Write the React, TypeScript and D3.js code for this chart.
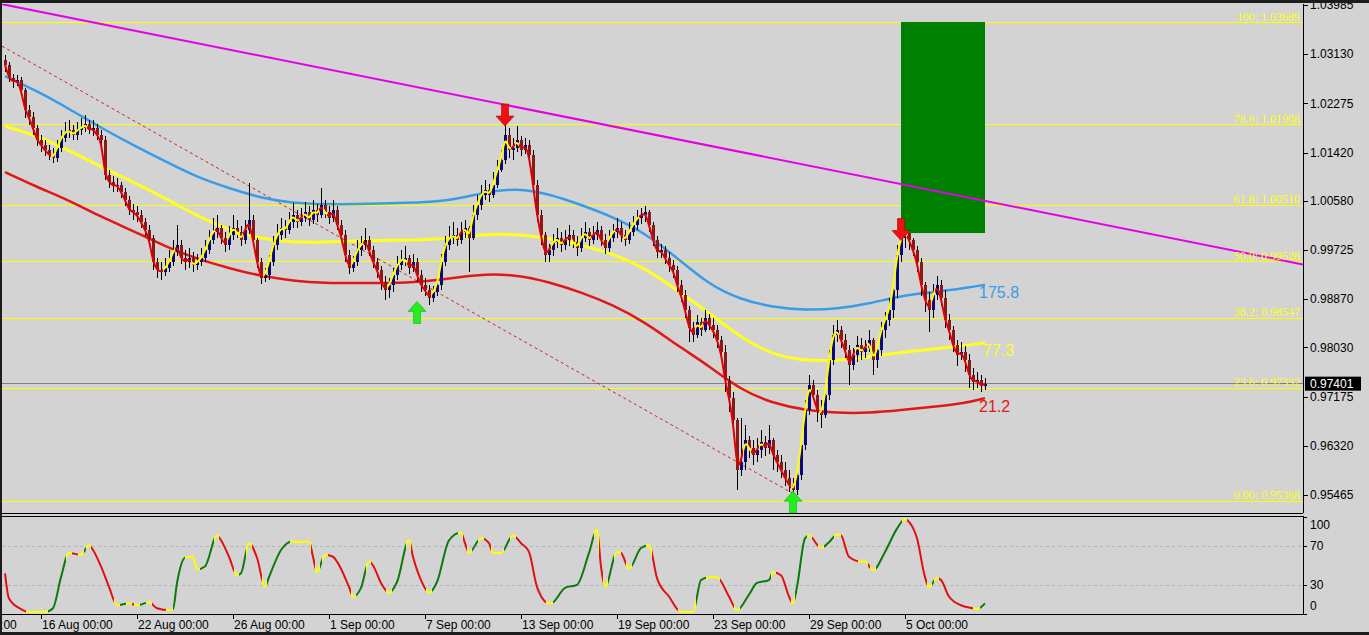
import React from 'react';
import * as d3 from 'd3';

// ---------- DATA ----------
const firstOpen = 1.0303;
// [high, low, close] per H4 bar; open = previous close
const candles: [number, number, number][] = [
  [1.0312, 1.0282, 1.0294], [1.0299, 1.0265, 1.0272], [1.0279, 1.0254, 1.0265], [1.0277, 1.0258, 1.0268], [1.0273, 1.0242, 1.0251], [1.0254, 1.0202, 1.0216],
  [1.0224, 1.0190, 1.0203], [1.0212, 1.0172, 1.0184], [1.0190, 1.0153, 1.0164], [1.0172, 1.0143, 1.0155], [1.0164, 1.0136, 1.0146], [1.0155, 1.0129, 1.0138],
  [1.0150, 1.0124, 1.0132], [1.0164, 1.0126, 1.0150], [1.0181, 1.0143, 1.0167], [1.0195, 1.0160, 1.0177], [1.0198, 1.0167, 1.0181], [1.0190, 1.0164, 1.0172],
  [1.0195, 1.0164, 1.0181], [1.0202, 1.0172, 1.0184], [1.0207, 1.0177, 1.0191], [1.0198, 1.0174, 1.0181], [1.0198, 1.0170, 1.0184], [1.0191, 1.0164, 1.0172],
  [1.0181, 1.0153, 1.0164], [1.0171, 1.0094, 1.0103], [1.0112, 1.0080, 1.0091], [1.0101, 1.0073, 1.0084], [1.0098, 1.0073, 1.0086], [1.0091, 1.0063, 1.0073],
  [1.0080, 1.0049, 1.0060], [1.0066, 1.0033, 1.0042], [1.0052, 1.0025, 1.0039], [1.0049, 1.0021, 1.0033], [1.0042, 1.0011, 1.0021], [1.0028, 0.9997, 1.0007],
  [1.0016, 0.9981, 0.9993], [0.9998, 0.9938, 0.9951], [0.9959, 0.9924, 0.9938], [0.9951, 0.9920, 0.9934], [0.9959, 0.9927, 0.9941], [0.9972, 0.9934, 0.9951],
  [0.9990, 0.9945, 0.9969], [1.0016, 0.9962, 0.9981], [0.9990, 0.9948, 0.9958], [0.9972, 0.9938, 0.9951], [0.9976, 0.9941, 0.9958], [0.9969, 0.9934, 0.9946],
  [0.9966, 0.9938, 0.9951], [0.9976, 0.9945, 0.9958], [0.9990, 0.9951, 0.9972], [1.0007, 0.9966, 0.9990], [1.0028, 0.9983, 1.0004], [1.0033, 0.9993, 1.0011],
  [1.0016, 0.9983, 0.9993], [1.0004, 0.9969, 0.9981], [1.0014, 0.9972, 0.9998], [1.0033, 0.9990, 1.0011], [1.0024, 0.9993, 1.0004], [1.0014, 0.9979, 0.9990],
  [1.0024, 0.9983, 1.0007], [1.0089, 1.0000, 1.0024], [1.0033, 0.9979, 0.9990], [0.9993, 0.9941, 0.9951], [0.9959, 0.9913, 0.9924], [0.9941, 0.9917, 0.9929],
  [0.9964, 0.9920, 0.9951], [0.9997, 0.9945, 0.9981], [1.0018, 0.9972, 0.9998], [1.0028, 0.9990, 1.0011], [1.0024, 0.9993, 1.0007], [1.0038, 1.0000, 1.0021],
  [1.0054, 1.0011, 1.0033], [1.0042, 1.0011, 1.0021], [1.0045, 1.0014, 1.0028], [1.0056, 1.0021, 1.0038], [1.0049, 1.0014, 1.0024], [1.0059, 1.0018, 1.0042],
  [1.0052, 1.0021, 1.0033], [1.0080, 1.0028, 1.0051], [1.0059, 1.0028, 1.0038], [1.0049, 1.0018, 1.0028], [1.0059, 1.0021, 1.0042], [1.0049, 1.0007, 1.0016],
  [1.0024, 0.9986, 0.9998], [1.0007, 0.9951, 0.9964], [0.9972, 0.9931, 0.9941], [0.9962, 0.9934, 0.9951], [0.9990, 0.9945, 0.9972], [0.9997, 0.9962, 0.9981],
  [1.0011, 0.9972, 0.9990], [0.9997, 0.9962, 0.9972], [0.9979, 0.9941, 0.9951], [0.9959, 0.9924, 0.9938], [0.9945, 0.9903, 0.9917], [0.9927, 0.9886, 0.9903],
  [0.9924, 0.9889, 0.9911], [0.9941, 0.9899, 0.9929], [0.9962, 0.9920, 0.9946], [0.9972, 0.9938, 0.9955], [0.9979, 0.9945, 0.9958], [0.9964, 0.9931, 0.9941],
  [0.9966, 0.9934, 0.9951], [0.9959, 0.9917, 0.9929], [0.9937, 0.9899, 0.9911], [0.9924, 0.9892, 0.9903], [0.9911, 0.9877, 0.9889], [0.9910, 0.9882, 0.9899],
  [0.9924, 0.9892, 0.9911], [0.9966, 0.9903, 0.9951], [0.9997, 0.9945, 0.9981], [1.0014, 0.9972, 0.9993], [1.0021, 0.9983, 0.9998], [1.0011, 0.9979, 0.9990],
  [1.0021, 0.9983, 1.0004], [1.0024, 0.9993, 1.0011], [1.0014, 0.9934, 0.9993], [1.0051, 0.9990, 1.0033], [1.0068, 1.0024, 1.0051], [1.0085, 1.0042, 1.0068],
  [1.0094, 1.0059, 1.0077], [1.0087, 1.0056, 1.0068], [1.0108, 1.0063, 1.0085], [1.0129, 1.0080, 1.0111], [1.0146, 1.0108, 1.0129], [1.0193, 1.0122, 1.0172],
  [1.0184, 1.0132, 1.0146], [1.0167, 1.0129, 1.0150], [1.0188, 1.0143, 1.0164], [1.0171, 1.0136, 1.0146], [1.0167, 1.0139, 1.0155], [1.0164, 1.0126, 1.0138],
  [1.0146, 1.0073, 1.0085], [1.0094, 1.0021, 1.0033], [1.0042, 0.9981, 0.9998], [1.0004, 0.9952, 0.9964], [0.9983, 0.9952, 0.9972], [1.0000, 0.9962, 0.9986],
  [1.0011, 0.9976, 0.9993], [1.0004, 0.9969, 0.9981], [1.0007, 0.9972, 0.9990], [1.0016, 0.9979, 0.9998], [1.0007, 0.9976, 0.9986], [0.9997, 0.9962, 0.9976],
  [1.0011, 0.9969, 0.9993], [1.0021, 0.9986, 1.0004], [1.0011, 0.9979, 0.9990], [1.0014, 0.9983, 0.9998], [1.0021, 0.9990, 1.0007], [1.0014, 0.9979, 0.9990],
  [1.0000, 0.9965, 0.9976], [1.0007, 0.9969, 0.9993], [1.0018, 0.9986, 1.0004], [1.0028, 0.9993, 1.0011], [1.0021, 0.9986, 0.9998], [1.0007, 0.9979, 0.9990],
  [1.0021, 0.9983, 1.0004], [1.0032, 0.9997, 1.0016], [1.0042, 1.0007, 1.0028], [1.0045, 1.0018, 1.0033], [1.0049, 1.0021, 1.0038], [1.0042, 1.0004, 1.0016],
  [1.0021, 0.9979, 0.9990], [0.9997, 0.9959, 0.9969], [0.9983, 0.9959, 0.9972], [0.9979, 0.9948, 0.9958], [0.9969, 0.9934, 0.9946], [0.9955, 0.9924, 0.9938],
  [0.9945, 0.9899, 0.9911], [0.9920, 0.9882, 0.9894], [0.9903, 0.9854, 0.9868], [0.9875, 0.9813, 0.9837], [0.9847, 0.9813, 0.9825], [0.9859, 0.9819, 0.9847],
  [0.9854, 0.9823, 0.9833], [0.9868, 0.9830, 0.9854], [0.9861, 0.9833, 0.9842], [0.9854, 0.9819, 0.9833], [0.9842, 0.9802, 0.9816], [0.9823, 0.9781, 0.9795],
  [0.9807, 0.9725, 0.9746], [0.9753, 0.9691, 0.9715], [0.9725, 0.9659, 0.9677], [0.9680, 0.9555, 0.9590], [0.9680, 0.9579, 0.9604], [0.9668, 0.9590, 0.9642],
  [0.9649, 0.9611, 0.9628], [0.9642, 0.9598, 0.9616], [0.9645, 0.9604, 0.9625], [0.9659, 0.9611, 0.9638], [0.9649, 0.9614, 0.9628], [0.9668, 0.9618, 0.9642],
  [0.9645, 0.9590, 0.9616], [0.9625, 0.9586, 0.9604], [0.9616, 0.9576, 0.9590], [0.9604, 0.9562, 0.9576], [0.9590, 0.9552, 0.9564], [0.9576, 0.9543, 0.9555],
  [0.9593, 0.9546, 0.9581], [0.9645, 0.9572, 0.9633], [0.9712, 0.9625, 0.9694], [0.9755, 0.9685, 0.9738], [0.9746, 0.9712, 0.9720], [0.9729, 0.9673, 0.9694],
  [0.9712, 0.9663, 0.9685], [0.9738, 0.9680, 0.9720], [0.9799, 0.9712, 0.9781], [0.9842, 0.9772, 0.9825], [0.9851, 0.9813, 0.9833], [0.9840, 0.9802, 0.9816],
  [0.9826, 0.9785, 0.9799], [0.9807, 0.9738, 0.9772], [0.9802, 0.9764, 0.9790], [0.9823, 0.9778, 0.9807], [0.9819, 0.9781, 0.9795], [0.9816, 0.9785, 0.9802],
  [0.9833, 0.9795, 0.9816], [0.9819, 0.9755, 0.9781], [0.9809, 0.9767, 0.9799], [0.9847, 0.9788, 0.9833], [0.9865, 0.9819, 0.9851], [0.9889, 0.9840, 0.9868],
  [0.9920, 0.9854, 0.9903], [0.9981, 0.9889, 0.9964], [1.0011, 0.9951, 0.9993], [1.0024, 0.9976, 1.0004], [1.0011, 0.9972, 0.9990], [0.9993, 0.9962, 0.9972],
  [0.9979, 0.9934, 0.9951], [0.9959, 0.9892, 0.9911], [0.9917, 0.9865, 0.9886], [0.9899, 0.9830, 0.9868], [0.9913, 0.9854, 0.9894], [0.9927, 0.9886, 0.9911],
  [0.9920, 0.9875, 0.9889], [0.9903, 0.9837, 0.9851], [0.9861, 0.9816, 0.9833], [0.9840, 0.9795, 0.9807], [0.9816, 0.9771, 0.9790], [0.9812, 0.9781, 0.9795],
  [0.9805, 0.9760, 0.9781], [0.9792, 0.9732, 0.9755], [0.9767, 0.9729, 0.9743], [0.9760, 0.9732, 0.9746], [0.9755, 0.9725, 0.9736], [0.9750, 0.9729, 0.9740],
];

const priceTicks = [1.03985, 1.0313, 1.02275, 1.0142, 1.0058, 0.99725, 0.9887, 0.9803, 0.97175, 0.9632, 0.95465];
const timeBars = [-15, 9, 33, 57, 81, 105, 129, 153, 177, 201, 225];
const timeLabels = ['10 Aug 00:00', '16 Aug 00:00', '22 Aug 00:00', '26 Aug 00:00', '1 Sep 00:00', '7 Sep 00:00', '13 Sep 00:00', '19 Sep 00:00', '23 Sep 00:00', '29 Sep 00:00', '5 Oct 00:00'];

const fibNames = ['100', '78.6', '61.8', '50.0', '38.2', '23.6', '0.00'];
const fibPrices = [1.03689, 1.01908, 1.0051, 0.99528, 0.98547, 0.97332, 0.95368];

const maBars = [0, 8, 16, 24, 32, 40, 48, 56, 64, 72, 80, 88, 96, 104, 112, 120, 128, 136, 144, 152, 160, 168, 176, 184, 192, 200, 208, 216, 224, 232, 240, 245];
const maBlue = [1.0275, 1.0249, 1.0218, 1.0185, 1.0155, 1.0127, 1.0099, 1.008, 1.0063, 1.0054, 1.0052, 1.0052, 1.0054, 1.0055, 1.0059, 1.0073, 1.008, 1.007, 1.0051, 1.003, 1.0002, 0.9959, 0.9912, 0.9886, 0.9873, 0.9868, 0.987, 0.9879, 0.9893, 0.9899, 0.9906, 0.9912];
const maYellow = [1.0188, 1.0171, 1.0146, 1.0117, 1.0091, 1.0063, 1.0032, 1.0007, 0.9992, 0.9986, 0.9986, 0.9988, 0.999, 0.999, 0.9993, 1.0, 1.0, 0.9993, 0.9981, 0.9966, 0.9941, 0.9903, 0.9863, 0.982, 0.979, 0.978, 0.978, 0.9786, 0.9795, 0.98, 0.9806, 0.9811];
const maRed = [1.0108, 1.0082, 1.0059, 1.003, 1.0006, 0.9979, 0.9957, 0.9941, 0.9927, 0.9919, 0.9915, 0.9915, 0.9915, 0.9917, 0.9924, 0.9931, 0.9929, 0.9917, 0.9899, 0.9877, 0.9847, 0.9807, 0.9771, 0.9729, 0.9706, 0.9694, 0.9689, 0.9689, 0.9694, 0.97, 0.9706, 0.9715];
const maLabels = ['175.8', '77.3', '21.2'];

const oscBars = [0, 1, 4, 6, 10, 12, 14, 16, 19, 21, 22, 24, 26, 28, 31, 33, 36, 38, 41, 42, 43, 45, 47, 48, 50, 53, 54, 56, 58, 59, 61, 63, 65, 66, 69, 72, 74, 76, 77, 78, 80, 82, 83, 86, 87, 89, 91, 92, 94, 96, 98, 101, 102, 104, 106, 108, 111, 114, 115, 116, 119, 121, 122, 124, 127, 129, 131, 133, 136, 137, 140, 143, 146, 148, 149, 150, 153, 154, 156, 159, 161, 163, 166, 169, 172, 174, 176, 178, 181, 183, 186, 188, 191, 192, 194, 196, 197, 198, 200, 201, 204, 206, 208, 209, 211, 214, 215, 217, 220, 223, 225, 226, 228, 230, 231, 233, 234, 236, 239, 242, 243, 245];
const oscVals = [42, 16, 5, 2, 2, 6, 38, 63, 61, 71, 66, 49, 28, 9, 11, 9, 12, 6, 4, 5, 32, 58, 59, 46, 49, 81, 76, 59, 40, 42, 73, 58, 28, 38, 66, 75, 74, 75, 59, 43, 61, 59, 54, 28, 18, 27, 54, 50, 32, 22, 33, 76, 59, 35, 22, 33, 76, 84, 73, 63, 78, 73, 63, 63, 81, 73, 64, 28, 11, 12, 27, 30, 63, 87, 49, 28, 64, 63, 47, 68, 71, 37, 18, 2, 2, 35, 38, 38, 18, 4, 20, 32, 35, 43, 40, 18, 11, 28, 78, 81, 68, 74, 82, 81, 59, 54, 54, 45, 64, 88, 98, 95, 78, 38, 28, 37, 35, 18, 9, 6, 5, 11];
const oscLevels = [100, 70, 30, 0];
const oscDotted = [70, 30];

const lastPrice = 0.97401;
const arrowDownBars = [125, 224];
const arrowDownPrices = [1.0188, 0.9989];
const arrowUpBars = [103, 197];
const arrowUpPrices = [0.9883, 0.9553];
const boxBars = [224, 245];
const boxPrices = [1.03689, 1.0002];
const magentaBars = [0, 324];
const magentaPrices = [1.0399, 0.9948];
const dashBars = [0, 197];
const dashPrices = [1.0324, 0.9549];

// ---------- CHART ----------
const W = 1369;
const H = 635;
const FONT = '"Liberation Sans", Arial, sans-serif';

export default function App() {
  const n = candles.length;
  const x = d3.scaleLinear().domain([0, n - 1]).range([5, 985]);
  const y = d3.scaleLinear().domain([0.95465, 1.03985]).range([495, 5]);
  const yo = d3.scaleLinear().domain([0, 100]).range([614, 517]);
  const PL = 2, PR = 1303, PT = 4, PB = 513;

  let prev = firstOpen;
  const bars = candles.map(([h, l, c], i) => {
    const o = prev;
    prev = c;
    return { i, o, c, h: Math.max(h, o, c), l: Math.min(l, o, c) };
  });

  const maLine = (vals: number[]) =>
    d3.line<number>().x((_, k) => x(maBars[k])).y((v) => y(v)).curve(d3.curveBasis)(vals) || '';

  // thin smoothed price line (through closes)
  const closes = bars.map((b) => b.c);
  const thinPath = d3.line<number>().x((_, k) => x(k)).y((v) => y(v)).curve(d3.curveBasis)(closes) || '';
  const x0 = x(0), x1 = x(n - 1);
  const off = (px: number) => Math.max(0, Math.min(1, (px - x0) / (x1 - x0)));
  const thinStops: { o: number; c: string }[] = [];
  closes.forEach((_, k) => {
    const a = closes[Math.min(n - 1, k + 2)] - closes[Math.max(0, k - 2)];
    const col = a > 0 ? '#ffff00' : '#e00000';
    thinStops.push({ o: off(x(k - 0.5)), c: col }, { o: off(x(k + 0.5)), c: col });
  });

  // oscillator
  const oscPath = d3.line<number>().x((_, k) => x(oscBars[k])).y((v) => yo(v)).curve(d3.curveMonotoneX)(oscVals) || '';
  const GRN = '#0b7a0b', RED = '#e01010', YEL = '#ffff00';
  const sgn = (v: number) => (v > 0 ? 1 : v < 0 ? -1 : 0);
  const oscStops: { o: number; c: string }[] = [];
  const band = 3;
  for (let k = 0; k < oscVals.length - 1; k++) {
    const dv = oscVals[k + 1] - oscVals[k];
    const col = Math.abs(dv) < 2 ? YEL : dv > 0 ? GRN : RED;
    const xa = x(oscBars[k]), xb = x(oscBars[k + 1]);
    const turnS = k > 0 && sgn(oscVals[k] - oscVals[k - 1]) !== sgn(dv);
    const turnE = k < oscVals.length - 2 && sgn(dv) !== sgn(oscVals[k + 2] - oscVals[k + 1]);
    const mid = (xa + xb) / 2;
    const a = turnS ? Math.min(xa + band, mid) : xa;
    const b = turnE ? Math.max(xb - band, mid) : xb;
    if (turnS) oscStops.push({ o: off(xa), c: YEL }, { o: off(a), c: YEL });
    oscStops.push({ o: off(a), c: col }, { o: off(b), c: col });
    if (turnE) oscStops.push({ o: off(b), c: YEL }, { o: off(xb), c: YEL });
  }

  const extLine = (bs: number[], ps: number[], xl: number, xr: number) => {
    const bl = x.invert(xl), br = x.invert(xr);
    const slope = (ps[1] - ps[0]) / (bs[1] - bs[0]);
    return { x1: xl, y1: y(ps[0] + slope * (bl - bs[0])), x2: xr, y2: y(ps[0] + slope * (br - bs[0])) };
  };
  const mag = extLine(magentaBars, magentaPrices, PL, PR);
  const dsh = extLine(dashBars, dashPrices, PL, x(dashBars[1]));

  const downArrow = (cx: number, ty: number) =>
    `M${cx},${ty} L${cx - 9},${ty - 10} L${cx - 3.5},${ty - 10} L${cx - 3.5},${ty - 22} L${cx + 3.5},${ty - 22} L${cx + 3.5},${ty - 10} L${cx + 9},${ty - 10} Z`;
  const upArrow = (cx: number, ty: number) =>
    `M${cx},${ty} L${cx - 9},${ty + 10} L${cx - 3.5},${ty + 10} L${cx - 3.5},${ty + 22} L${cx + 3.5},${ty + 22} L${cx + 3.5},${ty + 10} L${cx + 9},${ty + 10} Z`;

  const maEnds = [maBlue, maYellow, maRed].map((a) => a[a.length - 1]);
  const maColors = ['#3a9ce8', '#ffff20', '#e01818'];

  return (
    <svg width={W} height={H} style={{ position: 'absolute', left: 0, top: 0, display: 'block' }} xmlns="http://www.w3.org/2000/svg">
      <defs>
        <clipPath id="pclip"><rect x={PL} y={PT} width={PR - PL} height={PB - PT} /></clipPath>
        <clipPath id="oclip"><rect x={PL} y={516} width={PR - PL} height={614 - 516} /></clipPath>
        <linearGradient id="thinGrad" gradientUnits="userSpaceOnUse" x1={x0} x2={x1} y1={0} y2={0}>
          {thinStops.map((s, k) => <stop key={k} offset={s.o} stopColor={s.c} />)}
        </linearGradient>
        <linearGradient id="oscGrad" gradientUnits="userSpaceOnUse" x1={x0} x2={x1} y1={0} y2={0}>
          {oscStops.map((s, k) => <stop key={k} offset={s.o} stopColor={s.c} />)}
        </linearGradient>
      </defs>
      <rect x={0} y={0} width={W} height={H} fill="#d3d3d3" />

      {/* price panel */}
      <g clipPath="url(#pclip)">
        {fibPrices.map((p, k) => (
          <line key={k} x1={PL} x2={PR} y1={Math.round(y(p)) + 0.5} y2={Math.round(y(p)) + 0.5} stroke="#ffff00" strokeWidth={1} />
        ))}
        <line x1={PL} x2={PR} y1={Math.round(y(lastPrice)) - 0.5} y2={Math.round(y(lastPrice)) - 0.5} stroke="#808080" strokeWidth={1} />
        <line {...dsh} stroke="#d02020" strokeWidth={1} strokeDasharray="3,3" />
        <path d={maLine(maBlue)} fill="none" stroke={maColors[0]} strokeWidth={2.5} />
        <path d={maLine(maYellow)} fill="none" stroke={maColors[1]} strokeWidth={3} />
        <path d={maLine(maRed)} fill="none" stroke={maColors[2]} strokeWidth={2.5} />
        {bars.map((b) => {
          const cx = Math.round(x(b.i)) + 0.5;
          const top = Math.round(y(Math.max(b.o, b.c)));
          const bot = Math.round(y(Math.min(b.o, b.c)));
          const up = b.c >= b.o;
          return (
            <g key={b.i}>
              <line x1={cx} x2={cx} y1={Math.round(y(b.h))} y2={Math.round(y(b.l))} stroke="#000" strokeWidth={1} />
              <rect x={cx - 1.5} y={top} width={3} height={Math.max(1, bot - top)} fill={up ? '#0a0a78' : '#8a1a1a'} />
            </g>
          );
        })}
        <path d={thinPath} fill="none" stroke="url(#thinGrad)" strokeWidth={2} />
        <rect x={x(boxBars[0])} y={y(boxPrices[0])} width={x(boxBars[1]) - x(boxBars[0])} height={y(boxPrices[1]) - y(boxPrices[0])} fill="#008000" />
        <line {...mag} stroke="#e600e6" strokeWidth={2} />
        {arrowDownBars.map((b, k) => (
          <path key={'d' + k} d={downArrow(x(b), y(arrowDownPrices[k]))} fill="#ee1111" stroke="#b00000" strokeWidth={0.6} />
        ))}
        {arrowUpBars.map((b, k) => (
          <path key={'u' + k} d={upArrow(x(b), y(arrowUpPrices[k]))} fill="#22ee22" stroke="#10b010" strokeWidth={0.6} />
        ))}
        {fibNames.map((nm, k) => (
          <text key={k} x={1300} y={y(fibPrices[k]) - 1.5} textAnchor="end" fill="#ffff10" fontFamily='"Liberation Serif", "Times New Roman", serif' fontSize={12}>
            {`${nm}: ${fibPrices[k].toFixed(5)}`}
          </text>
        ))}
        {maLabels.map((t, k) => (
          <text key={k} x={x(n - 1) - 6 + (k === 1 ? 4 : 0)} y={y(maEnds[k]) + 8} dy="0.35em" fill={maColors[k]} fontFamily={FONT} fontSize={16}>
            {t}
          </text>
        ))}
      </g>

      {/* oscillator */}
      <g clipPath="url(#oclip)">
        {oscDotted.map((v) => (
          <line key={v} x1={PL} x2={PR} y1={Math.round(yo(v)) + 0.5} y2={Math.round(yo(v)) + 0.5} stroke="#b4b4b4" strokeWidth={1} strokeDasharray="3,3" />
        ))}
        <path d={oscPath} fill="none" stroke="url(#oscGrad)" strokeWidth={2} />
      </g>

      {/* frames */}
      <line x1={PL} x2={PR} y1={513.5} y2={513.5} stroke="#000" />
      <line x1={PL} x2={PR} y1={516.5} y2={516.5} stroke="#000" />
      <line x1={PL} x2={PR + 1} y1={614.5} y2={614.5} stroke="#000" />
      <line x1={PR + 0.5} x2={PR + 0.5} y1={PT} y2={513} stroke="#000" />
      <line x1={PR + 0.5} x2={PR + 0.5} y1={516} y2={615} stroke="#000" />

      {/* price axis */}
      {priceTicks.map((p) => (
        <g key={p}>
          <line x1={PR} x2={PR + 5} y1={Math.round(y(p)) + 0.5} y2={Math.round(y(p)) + 0.5} stroke="#000" />
          <text x={1310} y={y(p)} dy="0.35em" fontFamily={FONT} fontSize={12} fill="#000">{p.toFixed(5)}</text>
        </g>
      ))}
      <rect x={PR + 2} y={y(lastPrice) - 7} width={56} height={14} fill="#000" />
      <text x={1310} y={y(lastPrice)} dy="0.35em" fontFamily={FONT} fontSize={12} fill="#fff">{lastPrice.toFixed(5)}</text>

      {/* oscillator axis */}
      {oscLevels.map((v) => (
        <g key={v}>
          <line x1={PR} x2={PR + 4} y1={Math.round(yo(v)) + 0.5} y2={Math.round(yo(v)) + 0.5} stroke="#000" />
          <text x={1310} y={Math.min(Math.max(yo(v), 525), 606)} dy="0.35em" fontFamily={FONT} fontSize={12} fill="#000">{v}</text>
        </g>
      ))}

      {/* time axis */}
      {timeBars.map((b, k) => (
        <g key={k}>
          <line x1={Math.round(x(b)) + 0.5} x2={Math.round(x(b)) + 0.5} y1={614} y2={619} stroke="#000" />
          <text x={x(b) + 1} y={629} fontFamily={FONT} fontSize={12} fill="#000">{timeLabels[k]}</text>
        </g>
      ))}

      {/* outer dark edges */}
      <rect x={0} y={0} width={W} height={3} fill="#1c1c1c" />
      <rect x={0} y={632} width={W} height={3} fill="#1c1c1c" />
      <rect x={0} y={0} width={2} height={H} fill="#1c1c1c" />
    </svg>
  );
}
